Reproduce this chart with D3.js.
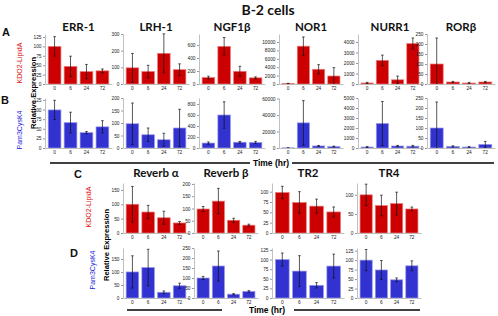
<!DOCTYPE html>
<html>
<head>
<meta charset="utf-8">
<script src="https://cdn.jsdelivr.net/npm/d3@7"></script>
<style>
  body { margin: 0; background: #fff; }
  svg { display: block; }
</style>
</head>
<body>
<div id="chart"></div>
<script>
// time points (hr)
const times = ["0", "6", "24", "72"];

// upper block: panels A (KDO2-LipidA) and B (Pam3CysK4)
const genesAB = ["ERR-1", "LRH-1", "NGF1β", "NOR1", "NURR1", "RORβ"];
const kdoAB = [[100, 47, 33, 35], [97, 75, 184, 86], [100, 580, 195, 95], [100, 9000, 3500, 1900], [100, 2250, 400, 3850], [100, 10, 5, 10]];
const kdoABErr = [[26, 27, 19, 5], [86, 37, 117, 35], [20, 135, 78, 15], [60, 2200, 1100, 2000], [60, 500, 350, 530], [130, 3, 3, 3]];
const pamAB = [[99, 66, 40, 55], [97, 53, 33, 80], [90, 600, 105, 100], [200, 30500, 2500, 1800], [100, 2450, 200, 180], [100, 8, 5, 18]];
const pamABErr = [[25, 27, 3, 16], [83, 27, 26, 75], [20, 240, 15, 20], [200, 27000, 600, 500], [50, 2200, 60, 80], [130, 3, 2, 15]];
const ticksA = [[0, 25, 50, 75, 100, 125], [0, 100, 200, 300], [0, 200, 400, 600], [0, 2000, 4000, 6000, 8000, 10000], [0, 1000, 2000, 3000, 4000], [0, 50, 100, 150, 200, 250]];
const ticksB = [[0, 25, 50, 75, 100, 125], [0, 50, 100, 150, 200], [0, 200, 400, 600, 800], [0, 20000, 40000, 60000], [0, 1000, 2000, 3000, 4000, 5000], [0, 50, 100, 150, 200, 250]];

// lower block: panels C (KDO2-LipidA) and D (Pam3CysK4)
const genesCD = ["Reverb α", "Reverb β", "TR2", "TR4"];
const kdoCD = [[100, 73, 53, 35], [98, 130, 52, 32], [98, 74, 65, 51], [100, 72, 77, 63]];
const kdoCDErr = [[62, 23, 23, 5], [10, 52, 8, 4], [15, 26, 17, 12], [28, 27, 30, 5]];
const pamCD = [[100, 117, 22, 47], [100, 160, 19, 33], [100, 70, 33, 83], [100, 74, 48, 85]];
const pamCDErr = [[62, 70, 5, 10], [8, 75, 3, 4], [17, 40, 7, 31], [28, 25, 5, 13]];
const ticksC = [[0, 50, 100, 150], [0, 50, 100, 150, 200], [0, 25, 50, 75, 100], [0, 50, 100]];
const ticksD = [[0, 50, 100, 150], [0, 50, 100, 150, 200, 250], [0, 25, 50, 75, 100, 125], [0, 25, 50, 75, 100, 125]];

// layout
const width = 498, height = 316;
const colAB = [45, 123, 199, 279, 358, 427];
const wAB = [67, 66, 66, 64, 64, 68];
const colCD = [123, 194, 272, 357];
const wCD = [66, 64, 72, 64];
const maxA = [133, 300, 770, 11900, 4760, 250];
const maxB = [130, 200, 909, 60700, 5000, 250];
const maxC = [174, 204, 121, 131];
const maxD = [192, 250, 130, 132];
const rowA = { base: 84, top: 34 }, rowB = { base: 148, top: 98 };
const rowC = { base: 233, top: 183 }, rowD = { base: 298, top: 248 };

const red = { fill: "#cc0000", edge: "#ee7a7a" };
const blue = { fill: "#3232d0", edge: "#9a9aee" };

const svg = d3.select("#chart").append("svg")
    .attr("width", width)
    .attr("height", height)
    .style("font-family", "'Liberation Sans', Arial, sans-serif");

function panel(ax, w, row, yMax, ticks, vals, errs, col) {
    const g = svg.append("g");
    const x = d3.scaleBand().domain(times).range([ax, ax + w]).paddingInner(0.2).paddingOuter(0.2);
    const y = d3.scaleLinear().domain([0, yMax]).range([row.base, row.top]);
    const data = times.map((t, i) => ({ t: t, v: vals[i], e: errs[i] }));

    g.selectAll(".bar").data(data).enter().append("rect")
        .attr("x", d => x(d.t))
        .attr("y", d => y(d.v))
        .attr("width", x.bandwidth())
        .attr("height", d => row.base - y(d.v))
        .attr("fill", col.fill)
        .attr("stroke", col.edge)
        .attr("stroke-width", 0.7);

    // error bars
    const eb = g.selectAll(".err").data(data).enter().append("g")
        .attr("transform", d => `translate(${x(d.t) + x.bandwidth() / 2},0)`);
    eb.append("line")
        .attr("y1", d => y(Math.max(0, d.v - d.e)))
        .attr("y2", d => y(d.v + d.e))
        .attr("stroke", "#111").attr("stroke-width", 0.7);
    eb.append("line")
        .attr("x1", -1.3).attr("x2", 1.3)
        .attr("y1", d => y(d.v + d.e)).attr("y2", d => y(d.v + d.e))
        .attr("stroke", "#111").attr("stroke-width", 0.7);
    eb.filter(d => d.v - d.e > 0).append("line")
        .attr("x1", -1.3).attr("x2", 1.3)
        .attr("y1", d => y(d.v - d.e)).attr("y2", d => y(d.v - d.e))
        .attr("stroke", "#111").attr("stroke-width", 0.7);

    // axes
    const ya = g.append("g")
        .attr("transform", `translate(${ax},0)`)
        .call(d3.axisLeft(y).tickValues(ticks).tickFormat(d3.format("d"))
            .tickSize(2).tickPadding(1.5).tickSizeOuter(0));
    const xa = g.append("g")
        .attr("transform", `translate(0,${row.base})`)
        .call(d3.axisBottom(x).tickSize(0).tickPadding(3).tickSizeOuter(0));
    [ya, xa].forEach(a => {
        a.select(".domain").attr("stroke", "#b0b0b0").attr("stroke-width", 0.8);
        a.selectAll(".tick line").attr("stroke", "#999");
        a.selectAll("text").attr("font-size", "4.8px").attr("fill", "#222")
            .attr("font-family", "'Liberation Sans', Arial, sans-serif");
    });
    return x;
}

function title(cx, yy, txt) {
    svg.append("text")
        .attr("x", cx).attr("y", yy)
        .attr("text-anchor", "middle")
        .attr("font-family", "Lato, sans-serif")
        .attr("font-weight", "bold")
        .attr("font-size", "11.5px")
        .attr("fill", "#111")
        .text(txt);
}

function vlabel(cx, cy, txt, color, size, bold) {
    svg.append("text")
        .attr("transform", `translate(${cx},${cy}) rotate(-90)`)
        .attr("text-anchor", "middle")
        .attr("dominant-baseline", "middle")
        .attr("font-size", size + "px")
        .attr("font-weight", bold ? "bold" : "normal")
        .attr("fill", color)
        .text(txt);
}

function letter(xx, yy, txt) {
    svg.append("text")
        .attr("x", xx).attr("y", yy)
        .attr("font-size", "11px")
        .attr("font-weight", "bold")
        .attr("fill", "#111")
        .text(txt);
}

function timeAxis(yy, x1, x2, tx, x3, x4) {
    svg.append("line").attr("x1", x1).attr("x2", x2).attr("y1", yy).attr("y2", yy)
        .attr("stroke", "#000").attr("stroke-width", 1.6);
    svg.append("line").attr("x1", x3).attr("x2", x4).attr("y1", yy).attr("y2", yy)
        .attr("stroke", "#000").attr("stroke-width", 1.6);
    svg.append("text")
        .attr("x", tx).attr("y", yy + 3)
        .attr("text-anchor", "middle")
        .attr("font-size", "8.5px")
        .attr("font-weight", "bold")
        .attr("fill", "#000")
        .text("Time (hr)");
}

// main title
svg.append("text")
    .attr("x", 268).attr("y", 15)
    .attr("text-anchor", "middle")
    .attr("font-family", "Lato, sans-serif")
    .attr("font-weight", "bold")
    .attr("font-size", "14px")
    .attr("fill", "#111")
    .text("B-2 cells");

// upper block
genesAB.forEach((gname, i) => {
    panel(colAB[i], wAB[i], rowA, maxA[i], ticksA[i], kdoAB[i], kdoABErr[i], red);
    panel(colAB[i], wAB[i], rowB, maxB[i], ticksB[i], pamAB[i], pamABErr[i], blue);
    title(colAB[i] + wAB[i] / 2, 31, gname);
});

// lower block
genesCD.forEach((gname, i) => {
    panel(colCD[i], wCD[i], rowC, maxC[i], ticksC[i], kdoCD[i], kdoCDErr[i], red);
    panel(colCD[i], wCD[i], rowD, maxD[i], ticksD[i], pamCD[i], pamCDErr[i], blue);
    title(colCD[i] + wCD[i] / 2, 177, gname);
});

// side labels
letter(2, 36, "A");
letter(1, 104, "B");
letter(74, 178, "C");
letter(70, 257, "D");
vlabel(20, 63, "KDO2-LipidA", "#dd1111", 7, false);
vlabel(20, 130, "Pam3CysK4", "#2222dd", 7, false);
vlabel(34, 93, "Relative Expression", "#000", 7.6, true);
vlabel(89, 207, "KDO2-LipidA", "#dd1111", 7, false);
vlabel(93, 270, "Pam3CysK4", "#2222dd", 7, false);
vlabel(107, 245, "Relative Expression", "#000", 7.6, true);

timeAxis(163, 50, 250, 271, 292, 494);
timeAxis(310, 127, 222, 267, 294, 420);
</script>
</body>
</html>
